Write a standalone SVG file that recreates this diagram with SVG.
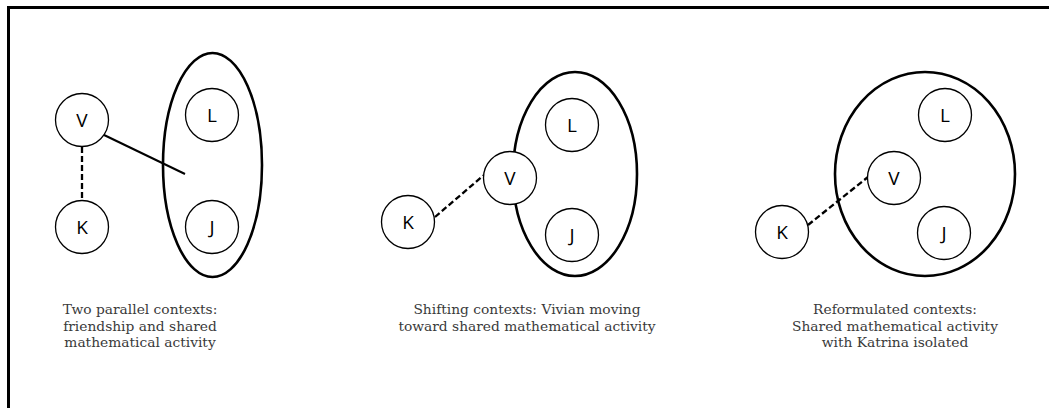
<svg xmlns="http://www.w3.org/2000/svg" width="1049" height="408" viewBox="0 0 1049 408">
<style>
.node circle{fill:#fff;stroke:#000;stroke-width:1.3}
.node text{font-family:"Open Sans","DejaVu Sans",sans-serif;font-size:19px;fill:#000;text-anchor:middle;dominant-baseline:central}
.ctx{fill:none;stroke:#000;stroke-width:2.6}
.solid{stroke:#000;stroke-width:2;fill:none}
.dash{stroke:#000;stroke-width:2.3;fill:none;stroke-dasharray:6 3}
.cap{font-family:"DejaVu Serif","Liberation Serif",serif;font-size:13.8px;fill:#3a3a3a;text-anchor:middle}
</style>
<rect width="1049" height="408" fill="#fff"/>
<path d="M8.5,408 V7.5 H1049" fill="none" stroke="#000" stroke-width="3"/>
<g id="contexts">
<ellipse class="ctx" cx="212.5" cy="165" rx="49.5" ry="112"/>
<ellipse class="ctx" cx="575" cy="174" rx="62" ry="102"/>
<ellipse class="ctx" cx="925" cy="174" rx="90" ry="102"/>
</g>
<g id="connectors">
<line class="solid" x1="102" y1="134" x2="185" y2="174"/>
<line class="dash" x1="82" y1="147" x2="82" y2="200"/>
<line class="dash" x1="435" y1="217" x2="484" y2="175"/>
<line class="dash" x1="808" y1="225" x2="868" y2="177"/>
</g>
<g id="p1-V" class="node"><circle cx="82" cy="120" r="26.5"/><text x="82" y="120">V</text></g>
<g id="p1-K" class="node"><circle cx="82" cy="227" r="26.5"/><text x="82" y="227">K</text></g>
<g id="p1-L" class="node"><circle cx="212" cy="115" r="26.5"/><text x="212" y="115">L</text></g>
<g id="p1-J" class="node"><circle cx="212" cy="227" r="26.5"/><text x="212" y="227">J</text></g>
<g id="p2-L" class="node"><circle cx="572" cy="125" r="26.5"/><text x="572" y="125">L</text></g>
<g id="p2-V" class="node"><circle cx="510" cy="178" r="26.5"/><text x="510" y="178">V</text></g>
<g id="p2-K" class="node"><circle cx="408" cy="222" r="26.5"/><text x="408" y="222">K</text></g>
<g id="p2-J" class="node"><circle cx="572" cy="235" r="26.5"/><text x="572" y="235">J</text></g>
<g id="p3-L" class="node"><circle cx="945" cy="115" r="26.5"/><text x="945" y="115">L</text></g>
<g id="p3-V" class="node"><circle cx="894" cy="178" r="26.5"/><text x="894" y="178">V</text></g>
<g id="p3-K" class="node"><circle cx="782" cy="232" r="26.5"/><text x="782" y="232">K</text></g>
<g id="p3-J" class="node"><circle cx="944" cy="233" r="26.5"/><text x="944" y="233">J</text></g>
<g id="captions">
<text class="cap" x="140" y="314">Two parallel contexts:</text>
<text class="cap" x="140" y="330.5">friendship and shared</text>
<text class="cap" x="140" y="347">mathematical activity</text>
<text class="cap" x="527" y="314">Shifting contexts: Vivian moving</text>
<text class="cap" x="527" y="330.5">toward shared mathematical activity</text>
<text class="cap" x="895" y="314">Reformulated contexts:</text>
<text class="cap" x="895" y="330.5">Shared mathematical activity</text>
<text class="cap" x="895" y="347">with Katrina isolated</text>
</g>
</svg>
